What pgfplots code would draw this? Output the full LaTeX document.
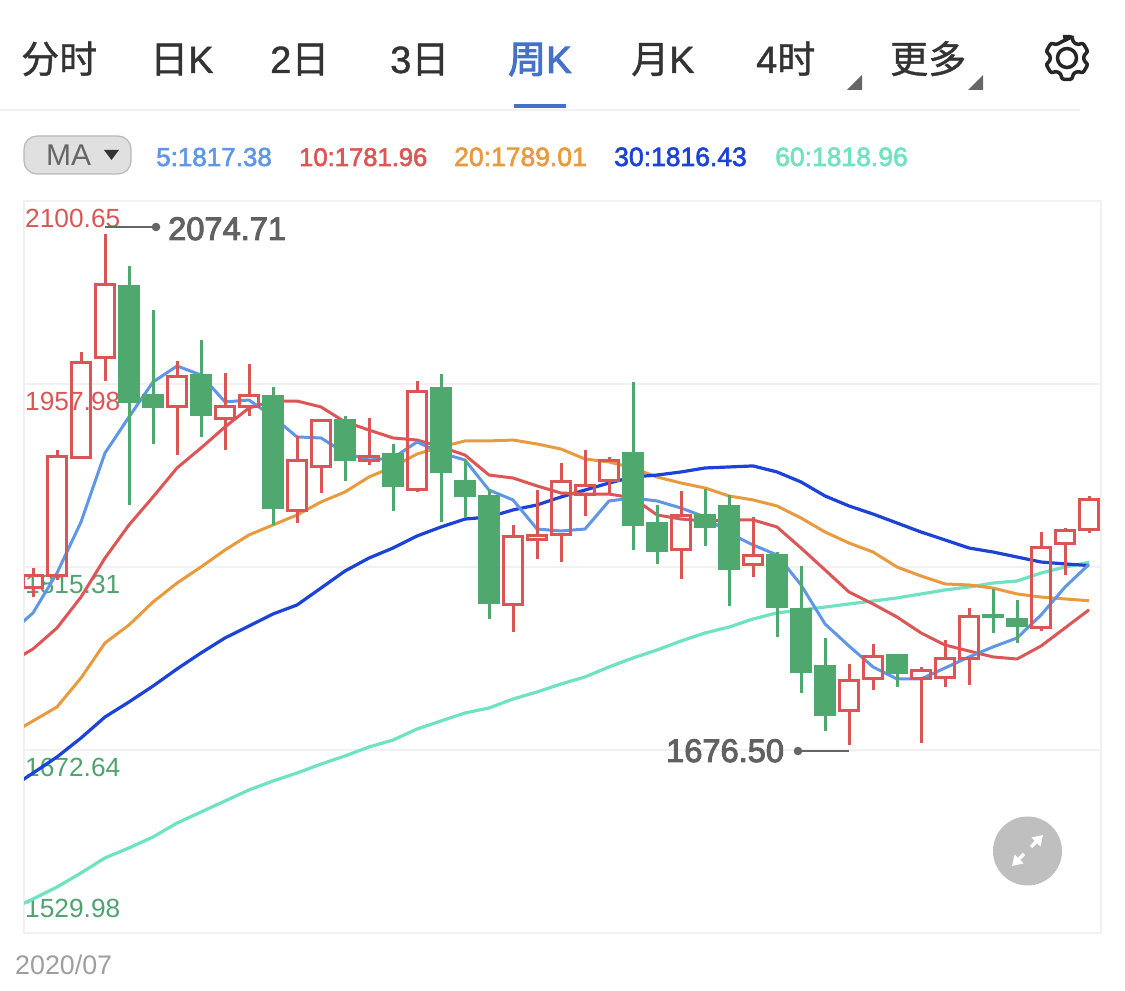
\documentclass[border=0pt]{standalone}
\usepackage{fontspec}
\usepackage{pgfplots}
\usepackage{pgfplotstable}
\pgfplotsset{compat=1.18}
\usetikzlibrary{arrows.meta}
\setmainfont{Liberation Sans}
\newfontfamily\cjk{Noto Sans CJK SC}
\definecolor{cred}{HTML}{DB5555}
\definecolor{cgreen}{HTML}{4FA96F}
\definecolor{lblgreen}{HTML}{4FA36F}
\definecolor{ma5}{HTML}{5F97E6}
\definecolor{ma10}{HTML}{DD5656}
\definecolor{ma20}{HTML}{E89A3F}
\definecolor{ma30}{HTML}{1C43D6}
\definecolor{ma60}{HTML}{6FE3C1}
\definecolor{tabblue}{HTML}{4472CA}
\definecolor{gridc}{HTML}{F1F1F1}
\newcommand{\fs}[1]{\fontsize{#1}{#1}\selectfont}
% text drawn with a thin outline, for the medium weight of the reference
\newcommand{\wt}[2]{\special{pdf:code q 2 Tr #1 w}#2\special{pdf:code Q}}
% i lo bottom top hi
\newcommand{\rc}[5]{%
  \pgfmathsetmacro\xa{#1-0.396}\pgfmathsetmacro\xb{#1+0.396}%
  \addplot[cred,line width=3pt,no marks] coordinates {(#1,#2)(#1,#3)};%
  \addplot[cred,line width=3pt,no marks] coordinates {(#1,#4)(#1,#5)};%
  \addplot[cred,line width=3pt,no marks,line join=miter] coordinates {(\xa,#3)(\xb,#3)(\xb,#4)(\xa,#4)} --cycle;%
}
\newcommand{\gc}[5]{%
  \pgfmathsetmacro\xa{#1-0.44}\pgfmathsetmacro\xb{#1+0.44}%
  \addplot[cgreen,line width=3pt,no marks] coordinates {(#1,#2)(#1,#5)};%
  \addplot[fill=cgreen,draw=none,no marks] coordinates {(\xa,#3)(\xb,#3)(\xb,#4)(\xa,#4)} --cycle;%
}
\pgfplotstableread{
i m5 m10 m20 m30 m60
-1 1763.1 1740.5 1684.3 1642.2 1547.9
0 1779.5 1751.4 1695.3 1654.7 1556.5
1 1810.6 1767.8 1706.2 1667.2 1565.8
2 1850.4 1791.9 1728.8 1682.0 1576.8
3 1904.2 1822.3 1756.1 1698.4 1588.5
4 1932.3 1848.1 1770.1 1710.1 1596.3
5 1959.5 1869.9 1788.0 1722.5 1604.8
6 1972.0 1892.5 1802.8 1735.8 1615.7
7 1965.0 1908.1 1815.3 1748.3 1624.3
8 1944.0 1924.5 1828.6 1760.0 1632.9
9 1945.5 1939.3 1840.3 1769.3 1641.5
10 1932.3 1944.7 1848.1 1778.7 1648.5
11 1916.7 1944.7 1855.9 1785.7 1654.7
12 1915.9 1940.1 1866.0 1798.9 1661.7
13 1904.2 1928.4 1873.8 1812.2 1668.0
14 1898.7 1922.1 1885.5 1822.3 1675.0
15 1900.3 1915.9 1893.3 1830.1 1680.4
16 1912.8 1914.3 1903.4 1839.5 1689.0
17 1904.2 1908.9 1908.9 1846.5 1695.3
18 1898.7 1902.6 1913.6 1852.7 1701.5
19 1875.3 1887.0 1913.6 1854.3 1705.4
20 1867.6 1884.7 1914.3 1859.8 1712.4
21 1844.9 1878.5 1911.2 1863.7 1717.9
22 1843.4 1873.0 1907.3 1869.9 1724.1
23 1844.9 1872.2 1899.5 1875.3 1729.6
24 1866.8 1872.2 1897.2 1880.8 1737.4
25 1869.1 1869.1 1892.5 1885.5 1744.4
26 1866.8 1855.9 1885.5 1887.0 1750.6
27 1861.3 1852.7 1880.8 1889.4 1757.6
28 1854.3 1851.2 1876.9 1892.5 1763.9
29 1841.8 1852.0 1870.7 1893.3 1768.5
30 1832.5 1852.0 1867.6 1894.1 1774.8
31 1824.7 1846.5 1862.9 1889.4 1779.5
32 1801.3 1830.1 1853.5 1881.6 1781.8
33 1770.9 1813.0 1842.6 1870.7 1784.1
34 1753.7 1795.8 1834.0 1862.9 1786.5
35 1737.4 1786.5 1827.0 1856.6 1788.8
36 1728.0 1776.3 1815.3 1849.6 1791.2
37 1728.0 1763.9 1808.3 1842.6 1794.3
38 1736.6 1754.5 1802.1 1836.4 1797.4
39 1745.2 1749.8 1801.3 1830.1 1799.7
40 1753.0 1745.2 1798.9 1827.0 1802.8
41 1760.0 1743.6 1794.3 1823.1 1804.4
42 1777.9 1753.7 1791.9 1819.2 1810.6
43 1799.7 1767.8 1790.4 1817.7 1815.3
44 1817.38 1781.96 1789.01 1816.43 1818.96
}\matable
\begin{document}
\begin{tikzpicture}
\useasboundingbox (0,0) rectangle (1125pt,991pt);
\begin{scope}[x=1pt,y=-1pt,shift={(0,991pt)}]
  % tabs
  \node[anchor=base west,inner sep=0,text=black!80] at (21,73) {\fs{38}\wt{0.4}{\cjk 分时}};
  \node[anchor=base west,inner sep=0,text=black!80] at (150,73) {\fs{38}\wt{0.4}{\cjk 日\rmfamily K}};
  \node[anchor=base west,inner sep=0,text=black!80] at (270,73) {\fs{38}\wt{0.4}{2\cjk 日}};
  \node[anchor=base west,inner sep=0,text=black!80] at (390,73) {\fs{38}\wt{0.4}{3\cjk 日}};
  \node[anchor=base west,inner sep=0,text=tabblue] at (508,73) {\fs{38}\wt{1.0}{\cjk 周\rmfamily K}};
  \node[anchor=base west,inner sep=0,text=black!80] at (631,73) {\fs{38}\wt{0.4}{\cjk 月\rmfamily K}};
  \node[anchor=base west,inner sep=0,text=black!80] at (756,73) {\fs{38}\wt{0.4}{4\cjk 时}};
  \node[anchor=base west,inner sep=0,text=black!80] at (890,73) {\fs{38}\wt{0.4}{\cjk 更多}};
  \fill[black!60] (862,75) -- (862,90) -- (847,90) -- cycle;
  \fill[black!60] (983,75) -- (983,90) -- (968,90) -- cycle;
  \fill[tabblue] (514,104.5) rectangle (566,108);
  \draw[gridc,line width=2pt] (0,110) -- (1080,110);
  % gear
  \draw[black!85,line width=3.5pt,rounded corners=2.5pt,shift={(1067,58)}]
    (76:22pt) \foreach \a in {90,30,-30,-90,-150,-210}{ -- (\a+14:22pt) -- (\a-14:22pt) -- (\a-20:17pt) -- (\a-40:17pt)} -- cycle;
  \draw[black!85,line width=3.5pt] (1067,58) circle (9.5pt);
  % MA selector
  \draw[fill=black!12,draw=black!28,line width=1.2pt,rounded corners=13pt] (24,136) rectangle (131,174);
  \node[anchor=base west,inner sep=0,text=black!60] at (46,166) {\fs{30}MA};
  \fill[black!80] (104,150) -- (119,150) -- (111.5,160) -- cycle;
  % legend
  \node[anchor=base west,inner sep=0,text=ma5] at (156,166) {\fs{26}\wt{0.6}{5:1817.38}};
  \node[anchor=base west,inner sep=0,text=ma10] at (299,166) {\fs{25.6}\wt{0.6}{10:1781.96}};
  \node[anchor=base west,inner sep=0,text=ma20] at (454,166) {\fs{26.5}\wt{0.6}{20:1789.01}};
  \node[anchor=base west,inner sep=0,text=ma30] at (614,166) {\fs{26.5}\wt{0.6}{30:1816.43}};
  \node[anchor=base west,inner sep=0,text=ma60] at (775,166) {\fs{26.5}\wt{0.6}{60:1818.96}};
  % axis value labels
  \node[anchor=base west,inner sep=0,text=cred] at (25,228) {\fs{26.3}2100.65};
  \node[anchor=base west,inner sep=0,text=cred] at (25,411) {\fs{26.3}1957.98};
  \node[anchor=base west,inner sep=0,text=lblgreen] at (25,594) {\fs{26.3}1815.31};
  \node[anchor=base west,inner sep=0,text=lblgreen] at (25,777) {\fs{26.3}1672.64};
  \node[anchor=base west,inner sep=0,text=lblgreen] at (25,918) {\fs{26.3}1529.98};
  \node[anchor=base west,inner sep=0,text=black!38] at (15,975) {\fs{26.8}2020/07};
\end{scope}
\begin{axis}[
  at={(24pt,58pt)},anchor=south west,scale only axis,
  width=1077pt,height=732pt,
  xmin=-0.375,xmax=44.5,ymin=1529.98,ymax=2100.65,
  xtick=\empty,
  ytick={1672.64,1815.31,1957.98},yticklabels={},
  major tick length=0pt,
  ymajorgrids,
  grid style={draw=gridc,line width=2pt},
  axis line style={draw=gridc,line width=2pt},
  axis on top=false,
]
\addplot[ma60,line width=3.2pt,no marks,line join=round] table[x=i,y=m60] {\matable};
\addplot[ma20,line width=3pt,no marks,line join=round] table[x=i,y=m20] {\matable};
\addplot[ma30,line width=3.2pt,no marks,line join=round] table[x=i,y=m30] {\matable};
\addplot[ma10,line width=3pt,no marks,line join=round] table[x=i,y=m10] {\matable};
\addplot[ma5,line width=3pt,no marks,line join=round] table[x=i,y=m5] {\matable};
\rc{0}{1791.9}{1799.7}{1808.3}{1814.5}
\rc{1}{1805.2}{1808.3}{1901.1}{1906.5}
\rc{2}{1900.3}{1900.3}{1975.1}{1982.9}
\rc{3}{1960.3}{1978.3}{2035.2}{2074.71}
\gc{4}{1863.7}{1943.2}{2035.2}{2050.0}
\gc{5}{1911.2}{1939.3}{1950.2}{2015.7}
\rc{6}{1902.6}{1940.8}{1964.2}{1975.9}
\gc{7}{1916.7}{1933.0}{1965.8}{1992.3}
\rc{8}{1906.5}{1930.7}{1940.1}{1966.6}
\rc{9}{1933.0}{1940.1}{1949.4}{1973.6}
\gc{10}{1848.1}{1860.5}{1949.4}{1955.6}
\rc{11}{1849.6}{1859.0}{1898.7}{1917.4}
\rc{12}{1873.0}{1893.3}{1929.9}{1929.9}
\gc{13}{1882.4}{1898.0}{1930.7}{1933.0}
\rc{14}{1894.8}{1898.7}{1901.1}{1931.5}
\gc{15}{1859.0}{1877.7}{1904.2}{1911.2}
\rc{16}{1873.8}{1876.1}{1951.8}{1960.3}
\gc{17}{1850.4}{1888.6}{1955.6}{1965.8}
\gc{18}{1853.5}{1869.9}{1883.1}{1898.7}
\gc{19}{1774.8}{1786.5}{1871.4}{1875.3}
\rc{20}{1764.6}{1785.7}{1838.7}{1848.1}
\rc{21}{1821.5}{1836.4}{1839.5}{1875.3}
\rc{22}{1819.2}{1840.3}{1881.6}{1896.4}
\rc{23}{1855.1}{1872.2}{1879.2}{1906.5}
\rc{24}{1871.4}{1882.4}{1898.0}{1901.1}
\gc{25}{1828.6}{1847.3}{1905.0}{1959.5}
\gc{26}{1817.7}{1827.0}{1850.4}{1863.7}
\rc{27}{1806.0}{1828.6}{1855.1}{1874.6}
\gc{28}{1831.7}{1845.7}{1856.6}{1876.1}
\gc{29}{1784.9}{1813.0}{1863.7}{1871.4}
\rc{30}{1807.5}{1816.9}{1823.9}{1854.3}
\gc{31}{1760.7}{1783.4}{1825.5}{1827.0}
\gc{32}{1717.1}{1732.7}{1783.4}{1816.1}
\gc{33}{1687.5}{1699.2}{1738.9}{1760.0}
\rc{34}{1676.5}{1703.1}{1727.2}{1739.7}
\rc{35}{1719.4}{1728.0}{1745.2}{1755.3}
\gc{36}{1721.8}{1731.9}{1747.5}{1747.5}
\rc{37}{1678.1}{1728.0}{1735.0}{1737.4}
\rc{38}{1721.8}{1728.8}{1743.6}{1758.4}
\rc{39}{1723.3}{1743.6}{1777.1}{1783.4}
\gc{40}{1763.9}{1775.6}{1778.7}{1798.2}
\gc{41}{1756.1}{1768.5}{1775.6}{1789.6}
\rc{42}{1765.4}{1768.5}{1830.9}{1842.6}
\rc{43}{1809.1}{1833.3}{1843.4}{1845.7}
\rc{44}{1841.8}{1844.2}{1868.3}{1870.7}
\end{axis}
\begin{scope}[x=1pt,y=-1pt,shift={(0,991pt)}]
  \draw[black!60,line width=1.5pt] (105,227) -- (152,227);
  \fill[black!60] (156,227) circle (4.3pt);
  \node[anchor=base west,inner sep=0,text=black!62] at (168,240) {\fs{32.6}\wt{1.0}{2074.71}};
  \draw[black!60,line width=1.5pt] (802,751) -- (849,751);
  \fill[black!60] (798,751) circle (4.3pt);
  \node[anchor=base west,inner sep=0,text=black!62] at (666,762) {\fs{32.6}\wt{1.0}{1676.50}};
  \fill[black!25] (1027.5,851) circle (34.5pt);
  \draw[white,line width=3.2pt,-{Triangle[length=10pt,width=12pt]}] (1031,847) -- (1043,835);
  \draw[white,line width=3.2pt,-{Triangle[length=10pt,width=12pt]}] (1024,854) -- (1012,866);
\end{scope}
\end{tikzpicture}
\end{document}
